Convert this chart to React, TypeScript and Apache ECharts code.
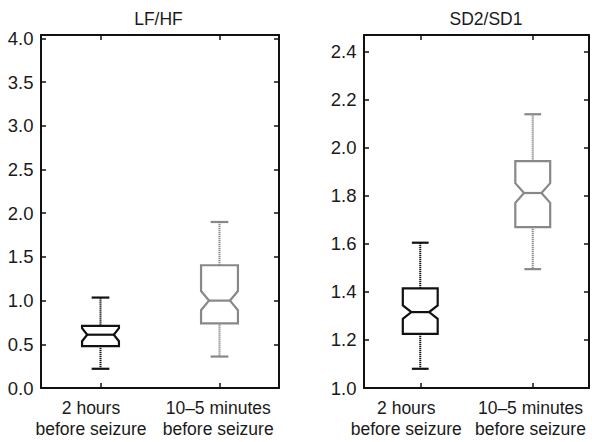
import React, { useEffect, useRef } from 'react';
import * as echarts from 'echarts';

// Category labels (same for both panels)
const categories = ['2 hours\nbefore seizure', '10–5 minutes\nbefore seizure'];

// Box statistics per category: [lower whisker, Q1, median, Q3, upper whisker]
const lfhfStats = [
  [0.22, 0.48, 0.61, 0.71, 1.035],
  [0.36, 0.74, 1.0, 1.405, 1.9],
];
// Notch extents per category: [lower, upper]
const lfhfNotch = [
  [0.535, 0.685],
  [0.89, 1.11],
];

const sdStats = [
  [1.08, 1.225, 1.316, 1.415, 1.605],
  [1.495, 1.67, 1.812, 1.945, 2.14],
];
const sdNotch = [
  [1.288, 1.344],
  [1.771, 1.853],
];

// Axis ranges / ticks
const lfhfAxis = { min: 0, max: 4.04, interval: 0.5 };
const sdAxis = { min: 1.0, max: 2.47, interval: 0.2 };

const titles = ['LF/HF', 'SD2/SD1'];

// ---------- styles ----------
const FONT = '"Liberation Sans", Arial, Helvetica, sans-serif';
const TEXT = '#1a1a1a';
const BOX_COLORS = ['#111111', '#888888'];
const NOTCH_DEPTH_LF = [0.72, 0.57];
const NOTCH_DEPTH_SD = [0.51, 0.5];
const LABEL_SHIFT_LF = [19, 2.6];
const LABEL_SHIFT_SD = [28, 4.6];

function buildData(stats: number[][], notch: number[][], depth: number[]) {
  return stats.map((s, i) => [i, ...s, notch[i][0], notch[i][1], depth[i]]);
}

function renderBox(params: any, api: any) {
  const idx = api.value(0);
  const low = api.value(1);
  const q1 = api.value(2);
  const med = api.value(3);
  const q3 = api.value(4);
  const high = api.value(5);
  const nLo = api.value(6);
  const nHi = api.value(7);
  const depth = api.value(8);
  const cx = api.coord([idx, med])[0];
  const y = (v: number) => api.coord([idx, v])[1];
  const band = api.size([1, 0])[0];
  const hw = band * 0.155;
  const capHw = hw * 0.48;
  const inner = hw * depth;
  const color = BOX_COLORS[idx];
  const yLow = y(low), yQ1 = y(q1), yMed = y(med), yQ3 = y(q3), yHigh = y(high);
  const yNLo = y(nLo), yNHi = y(nHi);
  const whisker = { stroke: color, lineWidth: 2, lineDash: [1.2, 0.8] };
  const solid = { stroke: color, lineWidth: 2.2, fill: 'none' };
  return {
    type: 'group',
    children: [
      { type: 'line', shape: { x1: cx, y1: yHigh, x2: cx, y2: yQ3 }, style: whisker },
      { type: 'line', shape: { x1: cx, y1: yQ1, x2: cx, y2: yLow }, style: whisker },
      { type: 'line', shape: { x1: cx - capHw, y1: yHigh, x2: cx + capHw, y2: yHigh }, style: solid },
      { type: 'line', shape: { x1: cx - capHw, y1: yLow, x2: cx + capHw, y2: yLow }, style: solid },
      {
        type: 'polygon',
        shape: {
          points: [
            [cx - hw, yQ3], [cx + hw, yQ3], [cx + hw, yNHi], [cx + inner, yMed],
            [cx + hw, yNLo], [cx + hw, yQ1], [cx - hw, yQ1], [cx - hw, yNLo],
            [cx - inner, yMed], [cx - hw, yNHi],
          ],
        },
        style: { ...solid, lineJoin: 'miter' },
      },
      { type: 'line', shape: { x1: cx - inner, y1: yMed, x2: cx + inner, y2: yMed }, style: solid },
    ],
  };
}

function App() {
  const ref = useRef<HTMLDivElement>(null);
  useEffect(() => {
    if (!ref.current) return;
    const chart = echarts.init(ref.current, undefined, { renderer: 'svg' });
    const frameLine = { show: true, onZero: false, lineStyle: { color: '#111', width: 2 } };
    const tick = { show: true, inside: true, length: 5, lineStyle: { color: '#111', width: 1.5 } };
    const grids = [
      { left: 41, top: 35, width: 238, height: 353 },
      { left: 364, top: 35, width: 231, height: 353 },
    ];
    const xLabel = (shifts: number[]) => ({
      show: true,
      margin: 9,
      fontSize: 17.5,
      fontFamily: FONT,
      color: TEXT,
      lineHeight: 21,
      interval: 0,
      formatter: (v: string, i: number) =>
        v.split('\n').map((l) => `{s${i}|${l}}`).join('\n'),
      rich: {
        s0: { padding: [0, shifts[0], 0, 0], fontSize: 17.5, fontFamily: FONT, color: TEXT, lineHeight: 21 },
        s1: { padding: [0, shifts[1], 0, 0], fontSize: 17.5, fontFamily: FONT, color: TEXT, lineHeight: 21 },
      },
    });
    const xAxes: any[] = [];
    const yAxes: any[] = [];
    [LABEL_SHIFT_LF, LABEL_SHIFT_SD].forEach((shifts, g) => {
      xAxes.push({
        type: 'category', gridIndex: g, data: categories, position: 'bottom',
        axisLine: frameLine, axisTick: { ...tick, alignWithLabel: true },
        axisLabel: xLabel(shifts), splitLine: { show: false },
      });
      xAxes.push({
        type: 'category', gridIndex: g, data: categories, position: 'top',
        axisLine: frameLine, axisTick: { ...tick, alignWithLabel: true },
        axisLabel: { show: false }, splitLine: { show: false },
      });
    });
    [lfhfAxis, sdAxis].forEach((ax, g) => {
      const fmt = (v: number) => {
        const k = (v - ax.min) / ax.interval;
        return Math.abs(k - Math.round(k)) < 1e-6 ? v.toFixed(1) : '';
      };
      yAxes.push({
        type: 'value', gridIndex: g, position: 'left', min: ax.min, max: ax.max, interval: ax.interval,
        axisLine: frameLine, axisTick: tick, splitLine: { show: false },
        axisLabel: { show: true, margin: 7.5, fontSize: 18.5, fontFamily: FONT, color: TEXT, formatter: fmt, showMaxLabel: false },
      });
      yAxes.push({
        type: 'value', gridIndex: g, position: 'right', min: ax.min, max: ax.max, interval: ax.interval,
        axisLine: frameLine, axisTick: tick, splitLine: { show: false },
        axisLabel: { show: false },
      });
    });
    chart.setOption({
      animation: false,
      backgroundColor: '#ffffff',
      grid: grids,
      xAxis: xAxes,
      yAxis: yAxes,
      graphic: [
        { type: 'text', x: 158.5, y: 18.5, style: { text: titles[0], align: 'center', verticalAlign: 'middle', fontSize: 17.5, fontFamily: FONT, fill: TEXT } },
        { type: 'text', x: 486, y: 18.5, style: { text: titles[1], align: 'center', verticalAlign: 'middle', fontSize: 17.5, fontFamily: FONT, fill: TEXT } },
      ],
      series: [
        {
          type: 'custom', xAxisIndex: 0, yAxisIndex: 0, renderItem: renderBox,
          data: buildData(lfhfStats, lfhfNotch, NOTCH_DEPTH_LF), clip: false,
        },
        {
          type: 'custom', xAxisIndex: 2, yAxisIndex: 2, renderItem: renderBox,
          data: buildData(sdStats, sdNotch, NOTCH_DEPTH_SD), clip: false,
        },
      ],
    });
    return () => chart.dispose();
  }, []);
  return (
    <div
      ref={ref}
      style={{ position: 'fixed', left: 0, top: 0, width: 592, height: 442, background: '#fff' }}
    />
  );
}

export default App;
